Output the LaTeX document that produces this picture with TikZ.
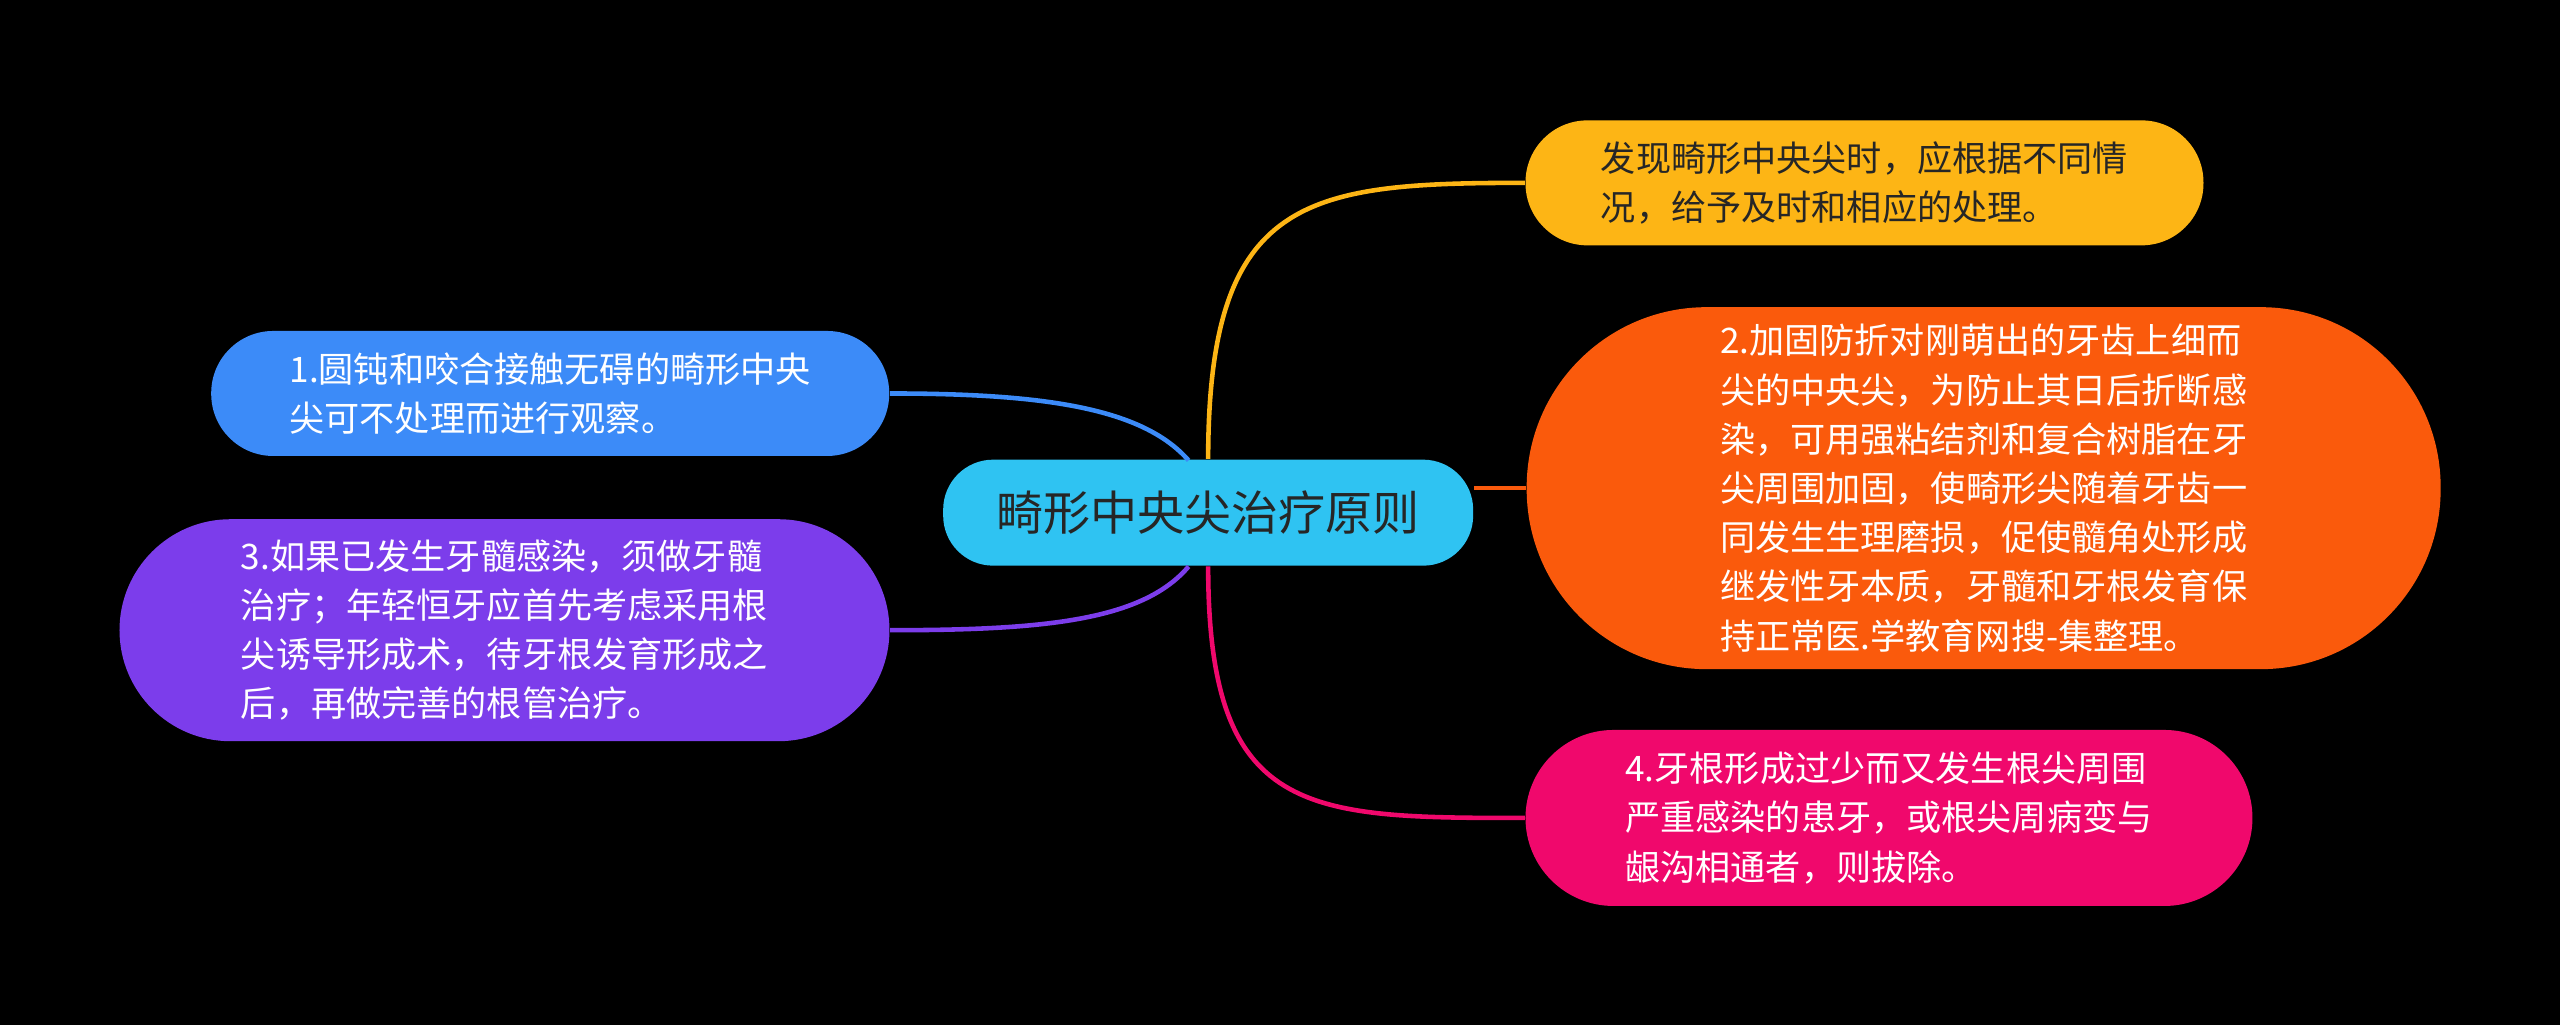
\documentclass[tikz,border=0pt]{standalone}
\usepackage{fontspec}
\setmainfont{Noto Sans CJK SC}
\usetikzlibrary{positioning}
\definecolor{bgblack}{HTML}{000000}
\definecolor{rootcyan}{HTML}{2FC3F2}
\definecolor{topyellow}{HTML}{FDB515}
\definecolor{midorange}{HTML}{FA5A0C}
\definecolor{lowpink}{HTML}{F0086C}
\definecolor{leftblue}{HTML}{3C8BF8}
\definecolor{leftpurple}{HTML}{7C3DEB}
\tikzset{
  leaf/.style={rounded corners=0.62cm, minimum height=1.25cm, inner sep=0pt, font=\fontsize{10}{14}\selectfont, align=left},
  branch/.style={line width=1.3pt}
}
\begin{document}
\begin{tikzpicture}[x=0.016327cm, y=-0.016327cm]
		%Hintergrund
		\fill[bgblack] (0,0) rectangle (1568,628);
		%Knoten
		\node[fill=rootcyan, rounded corners=0.5cm, minimum width=5.3cm, minimum height=1.06cm, font=\fontsize{13.4}{16}\selectfont, text=black!85] (root) at (740,314) {畸形中央尖治疗原则};
		\node[leaf, fill=topyellow, text=black!85, minimum width=6.78cm] (find) at (1142,112) {发现畸形中央尖时，应根据不同情\\况，给予及时和相应的处理。};
		\node[leaf, fill=midorange, text=white, minimum width=9.14cm, minimum height=3.62cm, rounded corners=1.8cm] (fix) at (1215,299) {2.加固防折对刚萌出的牙齿上细而\\尖的中央尖，为防止其日后折断感\\染，可用强粘结剂和复合树脂在牙\\尖周围加固，使畸形尖随着牙齿一\\同发生生理磨损，促使髓角处形成\\继发性牙本质，牙髓和牙根发育保\\持正常医.学教育网搜-集整理。};
		\node[leaf, fill=lowpink, text=white, minimum width=7.27cm, minimum height=1.76cm, rounded corners=0.88cm] (pull) at (1157,501) {4.牙根形成过少而又发生根尖周围\\严重感染的患牙，或根尖周病变与\\龈沟相通者，则拔除。};
		\node[leaf, fill=leftblue, text=white, minimum width=6.78cm] (watch) at (337,241) {1.圆钝和咬合接触无碍的畸形中央\\尖可不处理而进行观察。};
		\node[leaf, fill=leftpurple, text=white, minimum width=7.7cm, minimum height=2.22cm, rounded corners=1.11cm] (treat) at (309,386) {3.如果已发生牙髓感染，须做牙髓\\治疗；年轻恒牙应首先考虑采用根\\尖诱导形成术，待牙根发育形成之\\后，再做完善的根管治疗。};
		\coordinate (rootr) at (903,299);
		%Verbindungen
		\draw[branch, topyellow] (root.north) .. controls (740,120) and (800,112) .. (find.west);
		\draw[branch, midorange] (rootr) -- (fix.west |- rootr);
		\draw[branch, lowpink] (root.south) .. controls (740,500) and (800,501) .. (pull.west);
		\draw[branch, leftblue] (728,282) .. controls (700,250) and (640,241) .. (watch.east);
		\draw[branch, leftpurple] (728,347) .. controls (700,380) and (640,386) .. (treat.east);
\end{tikzpicture}
\end{document}
